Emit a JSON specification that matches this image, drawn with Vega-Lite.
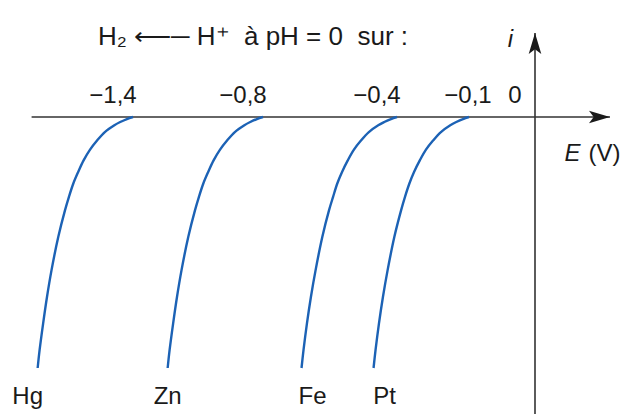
{
  "$schema": "https://vega.github.io/schema/vega-lite/v6.json",
  "width": 621,
  "height": 414,
  "autosize": {"type": "none"},
  "padding": 0,
  "background": "white",
  "title": {
    "text": "H₂ ⟵─ H⁺\u00a0 à pH = 0\u00a0 sur :",
    "anchor": "start",
    "frame": "group",
    "orient": "top",
    "offset": -50,
    "dx": 98,
    "font": "Liberation Sans",
    "fontSize": 26,
    "fontWeight": "normal",
    "color": "#1a1a1a"
  },
  "config": {
    "view": {"stroke": null},
    "text": {"font": "Liberation Sans", "fontSize": 24, "color": "#1a1a1a"}
  },
  "datasets": {
    "axes": [
      {"axis": "E", "from": -1.868, "to": 0.1136},
      {"axis": "i", "from": -1.2, "to": 0.335}
    ],
    "ticks": [
      {"E": -1.4, "label": "−1,4"},
      {"E": -0.8, "label": "−0,8"},
      {"E": -0.4, "label": "−0,4"},
      {"E": -0.1, "label": "−0,1"},
      {"E": 0, "label": "0"}
    ],
    "curves": [
      {"metal": "Hg", "E": -1.4, "i": 0},
      {"metal": "Hg", "E": -1.428, "i": -0.008},
      {"metal": "Hg", "E": -1.459, "i": -0.02},
      {"metal": "Hg", "E": -1.486, "i": -0.033},
      {"metal": "Hg", "E": -1.53, "i": -0.06},
      {"metal": "Hg", "E": -1.565, "i": -0.093},
      {"metal": "Hg", "E": -1.599, "i": -0.131},
      {"metal": "Hg", "E": -1.628, "i": -0.173},
      {"metal": "Hg", "E": -1.653, "i": -0.219},
      {"metal": "Hg", "E": -1.675, "i": -0.264},
      {"metal": "Hg", "E": -1.696, "i": -0.319},
      {"metal": "Hg", "E": -1.714, "i": -0.372},
      {"metal": "Hg", "E": -1.745, "i": -0.478},
      {"metal": "Hg", "E": -1.776, "i": -0.61},
      {"metal": "Hg", "E": -1.797, "i": -0.717},
      {"metal": "Hg", "E": -1.815, "i": -0.824},
      {"metal": "Hg", "E": -1.831, "i": -0.928},
      {"metal": "Hg", "E": -1.84, "i": -1},
      {"metal": "Zn", "E": -0.8, "i": 0},
      {"metal": "Zn", "E": -0.828, "i": -0.008},
      {"metal": "Zn", "E": -0.859, "i": -0.02},
      {"metal": "Zn", "E": -0.886, "i": -0.033},
      {"metal": "Zn", "E": -0.93, "i": -0.06},
      {"metal": "Zn", "E": -0.965, "i": -0.093},
      {"metal": "Zn", "E": -0.999, "i": -0.131},
      {"metal": "Zn", "E": -1.028, "i": -0.173},
      {"metal": "Zn", "E": -1.053, "i": -0.219},
      {"metal": "Zn", "E": -1.075, "i": -0.264},
      {"metal": "Zn", "E": -1.096, "i": -0.319},
      {"metal": "Zn", "E": -1.114, "i": -0.372},
      {"metal": "Zn", "E": -1.145, "i": -0.478},
      {"metal": "Zn", "E": -1.176, "i": -0.61},
      {"metal": "Zn", "E": -1.197, "i": -0.717},
      {"metal": "Zn", "E": -1.215, "i": -0.824},
      {"metal": "Zn", "E": -1.231, "i": -0.928},
      {"metal": "Zn", "E": -1.24, "i": -1},
      {"metal": "Fe", "E": -0.4, "i": 0},
      {"metal": "Fe", "E": -0.418, "i": -0.008},
      {"metal": "Fe", "E": -0.438, "i": -0.02},
      {"metal": "Fe", "E": -0.456, "i": -0.033},
      {"metal": "Fe", "E": -0.484, "i": -0.06},
      {"metal": "Fe", "E": -0.507, "i": -0.093},
      {"metal": "Fe", "E": -0.529, "i": -0.131},
      {"metal": "Fe", "E": -0.547, "i": -0.173},
      {"metal": "Fe", "E": -0.564, "i": -0.219},
      {"metal": "Fe", "E": -0.578, "i": -0.264},
      {"metal": "Fe", "E": -0.591, "i": -0.319},
      {"metal": "Fe", "E": -0.603, "i": -0.372},
      {"metal": "Fe", "E": -0.623, "i": -0.478},
      {"metal": "Fe", "E": -0.643, "i": -0.61},
      {"metal": "Fe", "E": -0.657, "i": -0.717},
      {"metal": "Fe", "E": -0.669, "i": -0.824},
      {"metal": "Fe", "E": -0.679, "i": -0.928},
      {"metal": "Fe", "E": -0.685, "i": -1},
      {"metal": "Pt", "E": -0.1, "i": 0},
      {"metal": "Pt", "E": -0.125, "i": -0.008},
      {"metal": "Pt", "E": -0.153, "i": -0.02},
      {"metal": "Pt", "E": -0.178, "i": -0.033},
      {"metal": "Pt", "E": -0.217, "i": -0.06},
      {"metal": "Pt", "E": -0.249, "i": -0.093},
      {"metal": "Pt", "E": -0.28, "i": -0.131},
      {"metal": "Pt", "E": -0.305, "i": -0.173},
      {"metal": "Pt", "E": -0.329, "i": -0.219},
      {"metal": "Pt", "E": -0.348, "i": -0.264},
      {"metal": "Pt", "E": -0.367, "i": -0.319},
      {"metal": "Pt", "E": -0.383, "i": -0.372},
      {"metal": "Pt", "E": -0.408, "i": -0.478},
      {"metal": "Pt", "E": -0.428, "i": -0.61},
      {"metal": "Pt", "E": -0.442, "i": -0.717},
      {"metal": "Pt", "E": -0.454, "i": -0.824},
      {"metal": "Pt", "E": -0.464, "i": -0.928},
      {"metal": "Pt", "E": -0.47, "i": -1}
    ]
  },
  "resolve": {"axis": {"x": "independent", "y": "independent"}},
  "layer": [
    {
      "data": {"name": "axes"},
      "transform": [{"filter": "datum.axis === 'E'"}],
      "mark": {"type": "rule", "color": "#333333", "strokeWidth": 1.6},
      "encoding": {
        "x": {
          "field": "from", "type": "quantitative",
          "scale": {"domain": [-1.4, -0.8, -0.4, -0.1, 0], "range": [133, 263, 397, 469, 535], "nice": false, "zero": false},
          "axis": {
            "orient": "top", "title": "(V)", "domain": false, "ticks": false, "labels": false, "grid": false,
            "titleFont": "Liberation Sans", "titleFontSize": 24, "titleFontWeight": "normal", "titleColor": "#1a1a1a",
            "titleX": 588, "titleY": 160, "titleAlign": "left", "titleBaseline": "alphabetic", "titleAngle": 0
          }
        },
        "x2": {"field": "to"},
        "y": {
          "datum": 0, "type": "quantitative",
          "scale": {"domain": [-1, 0], "range": [368, 117], "nice": false, "zero": false},
          "axis": null
        }
      }
    },
    {
      "data": {"name": "axes"},
      "transform": [{"filter": "datum.axis === 'i'"}],
      "mark": {"type": "rule", "color": "#333333", "strokeWidth": 1.6},
      "encoding": {
        "x": {"datum": 0, "type": "quantitative", "axis": null},
        "y": {
          "field": "from", "type": "quantitative",
          "axis": {
            "orient": "left", "title": "i", "domain": false, "ticks": false, "labels": false, "grid": false,
            "titleFont": "Liberation Sans", "titleFontSize": 24, "titleFontWeight": "normal", "titleFontStyle": "italic", "titleColor": "#1a1a1a",
            "titleX": 510, "titleY": 46, "titleAlign": "center", "titleBaseline": "alphabetic", "titleAngle": 0
          }
        },
        "y2": {"field": "to"}
      }
    },
    {
      "data": {"name": "axes"},
      "transform": [{"filter": "datum.axis === 'E'"}],
      "mark": {"type": "point", "shape": "M0,0 L0.6,2 L0,1.55 L-0.6,2 Z", "size": 441, "angle": 90, "filled": true, "color": "#1a1a1a", "opacity": 1},
      "encoding": {
        "x": {"field": "to", "type": "quantitative", "axis": null},
        "y": {"datum": 0, "type": "quantitative", "axis": null}
      }
    },
    {
      "data": {"name": "axes"},
      "transform": [{"filter": "datum.axis === 'i'"}],
      "mark": {"type": "point", "shape": "M0,0 L0.6,2 L0,1.55 L-0.6,2 Z", "size": 441, "angle": 0, "filled": true, "color": "#1a1a1a", "opacity": 1},
      "encoding": {
        "x": {"datum": 0, "type": "quantitative", "axis": null},
        "y": {"field": "to", "type": "quantitative", "axis": null}
      }
    },
    {
      "data": {"name": "curves"},
      "mark": {"type": "line", "color": "#1c62b5", "strokeWidth": 2.4, "interpolate": "catmull-rom"},
      "encoding": {
        "x": {
          "field": "E", "type": "quantitative",
          "axis": {
            "orient": "bottom", "title": "E", "domain": false, "ticks": false, "labels": false, "grid": false,
            "titleFont": "Liberation Sans", "titleFontSize": 24, "titleFontWeight": "normal", "titleFontStyle": "italic", "titleColor": "#1a1a1a",
            "titleX": 564, "titleY": -254, "titleAlign": "left", "titleBaseline": "alphabetic", "titleAngle": 0
          }
        },
        "y": {"field": "i", "type": "quantitative", "axis": null},
        "detail": {"field": "metal"},
        "order": {"field": "i", "sort": "descending"}
      }
    },
    {
      "data": {"name": "curves"},
      "transform": [{"filter": "datum.i === -1 && datum.metal === 'Hg'"}],
      "mark": {"type": "text", "align": "center", "baseline": "alphabetic", "dx": -10, "dy": 36},
      "encoding": {
        "x": {"field": "E", "type": "quantitative", "axis": null},
        "y": {"field": "i", "type": "quantitative", "axis": null},
        "text": {"field": "metal"}
      }
    },
    {
      "data": {"name": "curves"},
      "transform": [{"filter": "datum.i === -1 && datum.metal === 'Zn'"}],
      "mark": {"type": "text", "align": "center", "baseline": "alphabetic", "dx": 0, "dy": 36},
      "encoding": {
        "x": {"field": "E", "type": "quantitative", "axis": null},
        "y": {"field": "i", "type": "quantitative", "axis": null},
        "text": {"field": "metal"}
      }
    },
    {
      "data": {"name": "curves"},
      "transform": [{"filter": "datum.i === -1 && (datum.metal === 'Fe' || datum.metal === 'Pt')"}],
      "mark": {"type": "text", "align": "center", "baseline": "alphabetic", "dx": 11, "dy": 36},
      "encoding": {
        "x": {"field": "E", "type": "quantitative", "axis": null},
        "y": {"field": "i", "type": "quantitative", "axis": null},
        "text": {"field": "metal"}
      }
    },
    {
      "data": {"name": "ticks"},
      "transform": [{"filter": "datum.E !== -0.1"}],
      "mark": {"type": "text", "align": "center", "baseline": "alphabetic", "dx": -20, "dy": -14},
      "encoding": {
        "x": {"field": "E", "type": "quantitative", "axis": null},
        "y": {"datum": 0, "type": "quantitative", "axis": null},
        "text": {"field": "label"}
      }
    },
    {
      "data": {"name": "ticks"},
      "transform": [{"filter": "datum.E === -0.1"}],
      "mark": {"type": "text", "align": "center", "baseline": "alphabetic", "dx": -1, "dy": -14},
      "encoding": {
        "x": {"field": "E", "type": "quantitative", "axis": null},
        "y": {"datum": 0, "type": "quantitative", "axis": null},
        "text": {"field": "label"}
      }
    }
  ]
}
